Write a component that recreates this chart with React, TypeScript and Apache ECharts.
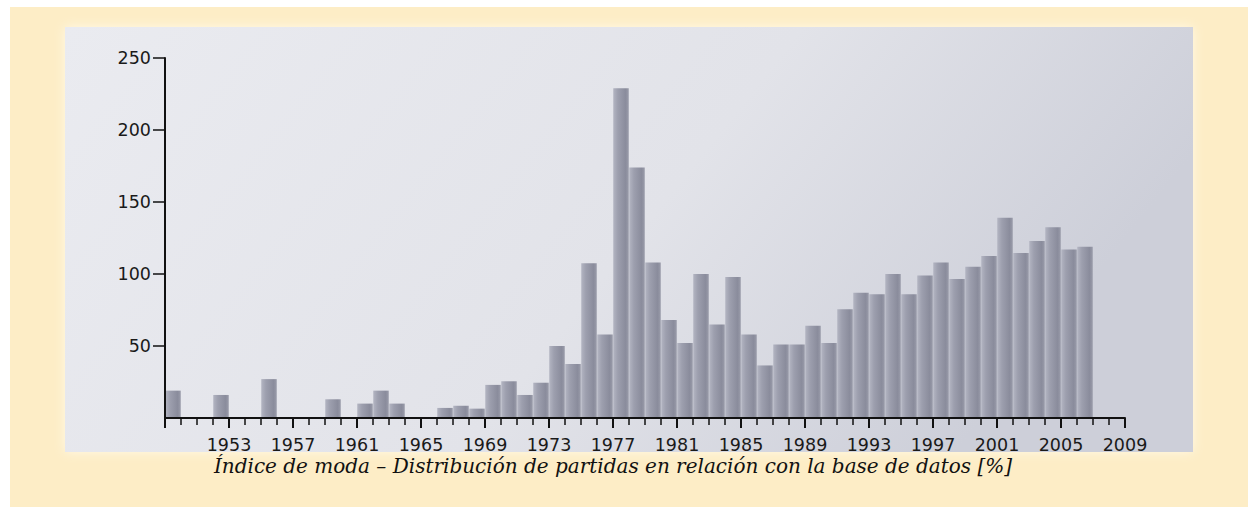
import React, { useEffect, useRef } from "react";
import * as echarts from "echarts";

// Interval-start year of each bar (bar spans [year, year+1])
const years = [
  1949, 1950, 1951, 1952, 1953, 1954, 1955, 1956, 1957, 1958,
  1959, 1960, 1961, 1962, 1963, 1964, 1965, 1966, 1967, 1968,
  1969, 1970, 1971, 1972, 1973, 1974, 1975, 1976, 1977, 1978,
  1979, 1980, 1981, 1982, 1983, 1984, 1985, 1986, 1987, 1988,
  1989, 1990, 1991, 1992, 1993, 1994, 1995, 1996, 1997, 1998,
  1999, 2000, 2001, 2002, 2003, 2004, 2005, 2006,
];

const values = [
  19, 0, 0, 16, 0, 0, 27, 0, 0, 0,
  13, 0, 10, 19, 10, 0, 0, 7, 8.5, 6.5,
  23, 25.5, 16, 24.5, 50, 37.5, 107.5, 58, 229, 174,
  108, 68, 52, 100, 65, 98, 58, 36.5, 51, 51,
  64, 52, 75.5, 87, 86, 100, 86, 99, 108, 96.5,
  105, 112.5, 139, 114.5, 123, 132.5, 117, 119,
];

const xMin = 1949;
const xMax = 2009;
const yTicks = [50, 100, 150, 200, 250];
const caption =
  "Índice de moda – Distribución de partidas en relación con la base de datos [%]";

export default function App() {
  const ref = useRef<HTMLDivElement>(null);

  useEffect(() => {
    if (!ref.current) return;
    const chart = echarts.init(ref.current, null, { renderer: "svg" });
    const barColor = new echarts.graphic.LinearGradient(0, 0, 1, 0, [
      { offset: 0, color: "#b3b5c2" },
      { offset: 0.3, color: "#9d9fae" },
      { offset: 0.8, color: "#8a8c9c" },
      { offset: 1, color: "#9a9caa" },
    ]);
    chart.setOption({
      animation: false,
      backgroundColor: "#ffffff",
      graphic: [
        {
          type: "rect",
          z: -20,
          silent: true,
          shape: { x: 10, y: 7, width: 1238, height: 500 },
          style: { fill: "#fdedc6" },
        },
        {
          type: "rect",
          z: -10,
          silent: true,
          shape: { x: 65, y: 27, width: 1128, height: 425 },
          style: {
            fill: new echarts.graphic.LinearGradient(0, 0, 1, 0.3, [
              { offset: 0, color: "#eaebf0" },
              { offset: 0.6, color: "#e2e3e9" },
              { offset: 1, color: "#cdcfd9" },
            ]),
            shadowBlur: 12,
            shadowColor: "rgba(255,250,235,0.9)",
          },
        },
        {
          type: "text",
          z: 10,
          silent: true,
          x: 613,
          y: 466,
          style: {
            text: caption,
            fill: "#111111",
            font: "italic 20px 'DejaVu Serif'",
            textAlign: "center",
            textVerticalAlign: "middle",
          },
        },
      ],
      grid: {
        left: 165,
        top: 58,
        width: 960,
        height: 360,
        containLabel: false,
      },
      xAxis: {
        type: "value",
        min: xMin,
        max: xMax,
        interval: 4,
        z: 10,
        axisLine: { show: true, lineStyle: { color: "#111", width: 2 } },
        axisTick: { show: true, length: 10, lineStyle: { color: "#111", width: 2 } },
        minorTick: { show: true, splitNumber: 4, length: 7, lineStyle: { color: "#111", width: 1.5 } },
        splitLine: { show: false },
        minorSplitLine: { show: false },
        axisLabel: {
          margin: 18,
          color: "#1a1a1a",
          fontSize: 17.5,
          fontFamily: "DejaVu Sans",
          formatter: (v: number) => (v === xMin ? "" : String(v)),
        },
      },
      yAxis: {
        type: "value",
        min: 0,
        max: 250,
        interval: 50,
        z: 10,
        axisLine: { show: true, lineStyle: { color: "#111", width: 2 } },
        axisTick: {
          show: true,
          length: 12,
          customValues: yTicks,
          lineStyle: { color: "#111", width: 1.5 },
        },
        splitLine: { show: false },
        axisLabel: {
          margin: 14,
          color: "#1a1a1a",
          fontSize: 17.5,
          fontFamily: "DejaVu Sans",
          customValues: yTicks,
        },
      },
      series: [
        {
          type: "bar",
          barWidth: 15.5,
          z: 2,
          itemStyle: { color: barColor },
          data: years.map((y, i) => [y + 0.5, values[i]]),
        },
      ],
    });
    return () => chart.dispose();
  }, []);

  return (
    <div
      ref={ref}
      style={{ position: "absolute", left: 0, top: 0, width: 1248, height: 507 }}
    />
  );
}
